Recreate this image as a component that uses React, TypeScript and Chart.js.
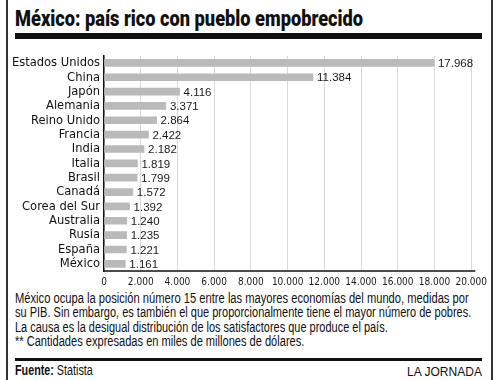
import React, { useEffect, useLayoutEffect, useRef } from "react";
import { Chart, registerables } from "chart.js";

Chart.register(...registerables);

const countries = [
  "Estados Unidos", "China", "Japón", "Alemania", "Reino Unido", "Francia", "India",
  "Italia", "Brasil", "Canadá", "Corea del Sur", "Australia", "Rusia", "España", "México",
];
const gdpValues = [17968, 11384, 4116, 3371, 2864, 2422, 2182, 1819, 1799, 1572, 1392, 1240, 1235, 1221, 1161];
const axisMax = 20000;
const axisStep = 2000;

const titleText = "México: país rico con pueblo empobrecido";
const noteLines = [
  "México ocupa la posición número 15 entre las mayores economías del mundo, medidas por",
  "su PIB. Sin embargo, es también el que proporcionalmente tiene el mayor número de pobres.",
  "La causa es la desigual distribución de los satisfactores que produce el país.",
  "** Cantidades expresadas en miles de millones de dólares.",
];
const noteWidths = [454, 456, 373, 289];

const COND = "'DejaVu Sans Condensed', 'Liberation Sans', sans-serif";
const REGULAR = "'Liberation Sans', Arial, sans-serif";

const fmt = (v: number) => String(Math.round(v)).replace(/\B(?=(\d{3})+(?!\d))/g, ".");

function Fit(props: { left: number; top: number; width: number; style?: React.CSSProperties; children: React.ReactNode }) {
  const ref = useRef<HTMLDivElement | null>(null);
  useLayoutEffect(() => {
    const el = ref.current;
    if (!el) return;
    el.style.transform = "none";
    const w = el.scrollWidth;
    if (w > 0) el.style.transform = `scaleX(${props.width / w})`;
  });
  return (
    <div
      ref={ref}
      style={{
        position: "absolute",
        left: props.left,
        top: props.top,
        whiteSpace: "nowrap",
        transformOrigin: "0 0",
        display: "inline-block",
        ...props.style,
      }}
    >
      {props.children}
    </div>
  );
}

export default function App() {
  const ref = useRef<HTMLCanvasElement | null>(null);

  useEffect(() => {
    if (!ref.current) return;
    const valueLabels = {
      id: "valueLabels",
      afterDatasetsDraw(chart: any) {
        const ctx = chart.ctx;
        const meta = chart.getDatasetMeta(0);
        ctx.save();
        ctx.font = `11.5px ${REGULAR}`;
        ctx.fillStyle = "#1a1a1a";
        ctx.textAlign = "left";
        ctx.textBaseline = "middle";
        meta.data.forEach((bar: any, i: number) => {
          ctx.fillText(fmt(gdpValues[i]), bar.x + 4, bar.y + 1);
        });
        const a = chart.chartArea;
        ctx.strokeStyle = "#111";
        ctx.lineWidth = 1.5;
        ctx.beginPath();
        ctx.moveTo(a.left - 1, a.bottom);
        ctx.lineTo(a.right + 4, a.bottom);
        ctx.stroke();
        ctx.restore();
      },
    };
    const chart = new Chart(ref.current, {
      type: "bar",
      data: {
        labels: countries,
        datasets: [
          {
            data: gdpValues,
            backgroundColor: "#bababa",
            borderWidth: 0,
            barThickness: 7,
          },
        ],
      },
      options: {
        indexAxis: "y",
        animation: false,
        responsive: false,
        maintainAspectRatio: false,
        layout: { padding: { top: 6, right: 16, left: 0, bottom: 0 } },
        plugins: { legend: { display: false }, tooltip: { enabled: false }, title: { display: false } },
        scales: {
          x: {
            min: 0,
            max: axisMax,
            afterFit: (s: any) => { s.height = 19; },
            border: { display: false },
            grid: { color: "#d9d9d9", lineWidth: 1, drawTicks: false },
            ticks: {
              stepSize: axisStep,
              padding: 5,
              color: "#1a1a1a",
              font: { family: COND, size: 10 },
              callback: (v: any) => fmt(Number(v)),
              maxRotation: 0,
              autoSkip: false,
            },
          },
          y: {
            afterFit: (s: any) => { s.width = 104; },
            border: { display: true, color: "#111", width: 1.5 },
            grid: { display: false, drawTicks: false },
            ticks: {
              padding: 4,
              color: "#111",
              font: { family: COND, size: 12.8 },
              autoSkip: false,
            },
          },
        },
      },
      plugins: [valueLabels],
    });
    return () => chart.destroy();
  }, []);

  const abs = (s: React.CSSProperties): React.CSSProperties => ({ position: "absolute", ...s });

  return (
    <div style={{ position: "fixed", left: 0, top: 0, width: 500, height: 380, background: "#fff", overflow: "hidden", color: "#1a1a1a" }}>
      <div style={abs({ left: 6, top: 0, width: 2, height: 380, background: "#333" })} />
      <div style={abs({ left: 491, top: 0, width: 2, height: 380, background: "#333" })} />
      <Fit left={15} top={4} width={348} style={{ fontFamily: "Roboto, 'Liberation Sans', sans-serif", fontWeight: 900, fontSize: 22.5, lineHeight: "28px", color: "#111" }}>
        {titleText}
      </Fit>
      <div style={abs({ left: 15, top: 33, width: 467, height: 6, background: "#111" })} />
      <canvas ref={ref} width={492} height={246} style={abs({ left: 0, top: 44, width: 492, height: 246 })} />
      {noteLines.map((line, i) => (
        <Fit key={i} left={15} top={292 + i * 14.4} width={noteWidths[i]} style={{ fontFamily: REGULAR, fontSize: 13.8, lineHeight: "14.4px", color: "#111" }}>
          {line}
        </Fit>
      ))}
      <div style={abs({ left: 15, top: 358, width: 467, height: 3, background: "#111" })} />
      <Fit left={15} top={364} width={78} style={{ fontFamily: REGULAR, fontSize: 13.8, lineHeight: "14.4px", color: "#111" }}>
        <b>Fuente:</b> Statista
      </Fit>
      <Fit left={407} top={364.5} width={75} style={{ fontFamily: REGULAR, fontSize: 13, lineHeight: "14.4px", color: "#111" }}>
        LA JORNADA
      </Fit>
    </div>
  );
}
